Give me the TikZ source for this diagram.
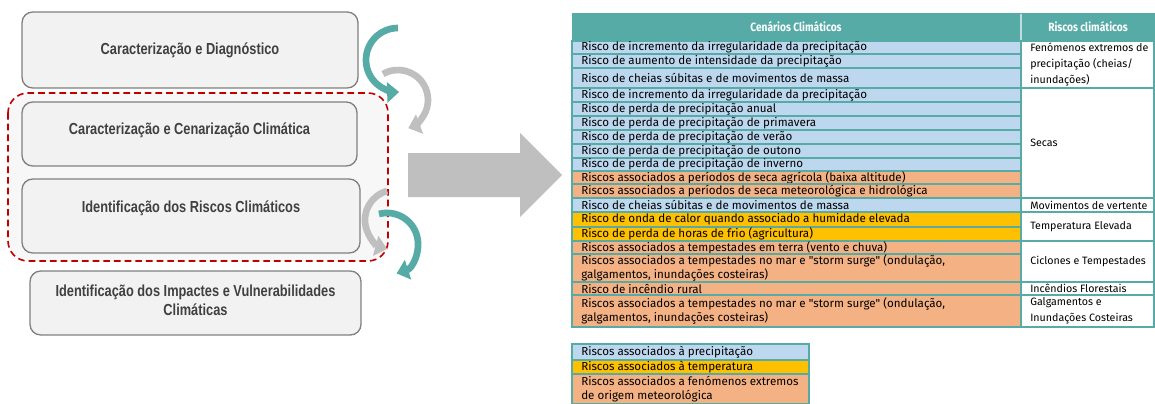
\documentclass[tikz,border=0pt]{standalone}
\usepackage{fontspec}
\setmainfont{Liberation Sans}
\newfontfamily\stagefont[FakeStretch=0.8]{Liberation Sans}
\newfontfamily\tabfont{Fira Sans}
\newfontfamily\headfont[FakeStretch=0.85]{Fira Sans}
\usepackage{tikz}
\usetikzlibrary{arrows.meta,positioning,calc}
\usepackage{xcolor}
\definecolor{tealc}{HTML}{56ABA6}
\definecolor{rowblue}{HTML}{BDD7EE}
\definecolor{roworange}{HTML}{F4B183}
\definecolor{rowyellow}{HTML}{FFC000}
\definecolor{boxgray}{HTML}{F2F2F2}
\definecolor{boxline}{HTML}{808080}
\definecolor{groupfill}{HTML}{F7F7F7}
\definecolor{arrowgray}{HTML}{BFBFBF}
\definecolor{dashred}{HTML}{C00000}
\definecolor{textgray}{HTML}{404040}

\begin{document}
\begin{tikzpicture}[x=0.75pt, y=-0.75pt,
  stagebox/.style={draw=boxline, fill=boxgray, line width=1pt, rounded corners=8pt},
  stagetext/.style={text=textgray, align=center, font=\stagefont\bfseries\fontsize{12}{14.3}\selectfont},
  looparrow/.style={line width=5pt, -{Triangle[length=9pt, width=15pt]}},
  headtext/.style={text=white, font=\headfont\bfseries\fontsize{9}{11}\selectfont},
  rowtext/.style={anchor=west, inner sep=0pt, align=left, font=\tabfont\fontsize{8.7}{10.4}\selectfont},
  risktext/.style={anchor=west, inner sep=0pt, align=left, font=\tabfont\fontsize{8}{12.2}\selectfont}]
  \useasboundingbox (0,0) rectangle (1155,403);

  \draw[dashred, fill=groupfill, line width=1.2pt, dash pattern=on 5pt off 3pt, rounded corners=15pt] (8,93) rectangle (388,261);

  \node[stagebox, minimum width=252pt, minimum height=57pt] (diagbox) at (190,50) {};
  \node[stagebox, minimum width=251.25pt, minimum height=48pt] (scenbox) at (189.5,134) {};
  \node[stagebox, minimum width=253.5pt, minimum height=55.5pt] (riskbox) at (191,216) {};
  \node[stagebox, minimum width=248.25pt, minimum height=48pt] (impbox) at (195.5,303) {};
  \node[stagetext] (diagtxt) at (diagbox.center) {Caracterização e Diagnóstico};
  \node[stagetext] (scentxt) at ([yshift=3pt]scenbox.center) {Caracterização e Cenarização Climática};
  \node[stagetext] (risktxt) at ([yshift=6pt]riskbox.center) {Identificação dos Riscos Climáticos};
  \node[stagetext] (imptxt) at ([yshift=2pt]impbox.center) {Identificação dos Impactes e Vulnerabilidades\\Climáticas};

  \draw[looparrow, tealc] (398,28) arc[start angle=-90, end angle=-272, radius=32];
  \draw[looparrow, arrowgray] (383,74) arc[start angle=240, end angle=430, radius=30];
  \draw[looparrow, arrowgray] (387.2,191) arc[start angle=255, end angle=105, radius=30];
  \draw[looparrow, tealc] (379,214) arc[start angle=255, end angle=432, radius=31];

  \fill[arrowgray] (408,153) -- (520,153) -- (520,133) -- (562,175) -- (520,217) -- (520,197) -- (408,197) -- cycle;

  \fill[tealc] (572,13) rectangle (1155,41);
  \draw[white!60!tealc, line width=1pt] (1021,14) -- (1021,41);
  \node[headtext] (scenhead) at (796,27) {Cenários Climáticos};
  \node[headtext] (riskhead) at (1088,27) {Riscos climáticos};

  \foreach \ya/\yb/\rowcol/\txt [count=\i] in {
    41/54/rowblue/Risco de incremento da irregularidade da precipitação,
    54/68/rowblue/Risco de aumento de intensidade da precipitação,
    68/88/rowblue/Risco de cheias súbitas e de movimentos de massa,
    88/102/rowblue/Risco de incremento da irregularidade da precipitação,
    102/116/rowblue/Risco de perda de precipitação anual,
    116/130/rowblue/Risco de perda de precipitação de primavera,
    130/144/rowblue/Risco de perda de precipitação de verão,
    144/158/rowblue/Risco de perda de precipitação de outono,
    158/171/rowblue/Risco de perda de precipitação de inverno,
    171/184/roworange/Riscos associados a períodos de seca agrícola (baixa altitude),
    184/198/roworange/Riscos associados a períodos de seca meteorológica e hidrológica,
    198/212/rowblue/Risco de cheias súbitas e de movimentos de massa,
    212/227/rowyellow/Risco de onda de calor quando associado a humidade elevada,
    227/241/rowyellow/Risco de perda de horas de frio (agricultura),
    241/254/roworange/Riscos associados a tempestades em terra (vento e chuva),
    254/282/roworange/{Riscos associados a tempestades no mar e "storm surge" (ondulação,\\galgamentos, inundações costeiras)},
    282/295/roworange/Risco de incêndio rural,
    295/327/roworange/{Riscos associados a tempestades no mar e "storm surge" (ondulação,\\galgamentos, inundações costeiras)}}
  {
    \filldraw[fill=\rowcol, draw=tealc, line width=1pt] (572,\ya) rectangle (1021,\yb);
    \node[rowtext] (row\i) at (581,{(\ya+\yb)/2}) {\txt};
  }

  \foreach \ya/\yb/\txt [count=\i] in {
    41/88/{Fenómenos extremos de\\precipitação (cheias/\\inundações)},
    88/198/Secas,
    198/212/Movimentos de vertente,
    212/241/Temperatura Elevada,
    241/282/Ciclones e Tempestades,
    282/295/Incêndios Florestais,
    295/327/{Galgamentos e\\Inundações Costeiras}}
  {
    \draw[tealc, line width=1pt] (1021,\ya) rectangle (1154,\yb);
    \node[risktext] (risk\i) at (1030,{(\ya+\yb)/2}) {\txt};
  }

  \foreach \ya/\yb/\rowcol/\txt [count=\i] in {
    344/360/rowblue/Riscos associados à precipitação,
    360/374/rowyellow/Riscos associados à temperatura,
    374/404/roworange/{Riscos associados a fenómenos extremos\\de origem meteorológica}}
  {
    \filldraw[fill=\rowcol, draw=tealc, line width=1pt] (572,\ya) rectangle (809,\yb);
    \node[rowtext] (key\i) at (581,{(\ya+\yb)/2}) {\txt};
  }
\end{tikzpicture}
\end{document}
